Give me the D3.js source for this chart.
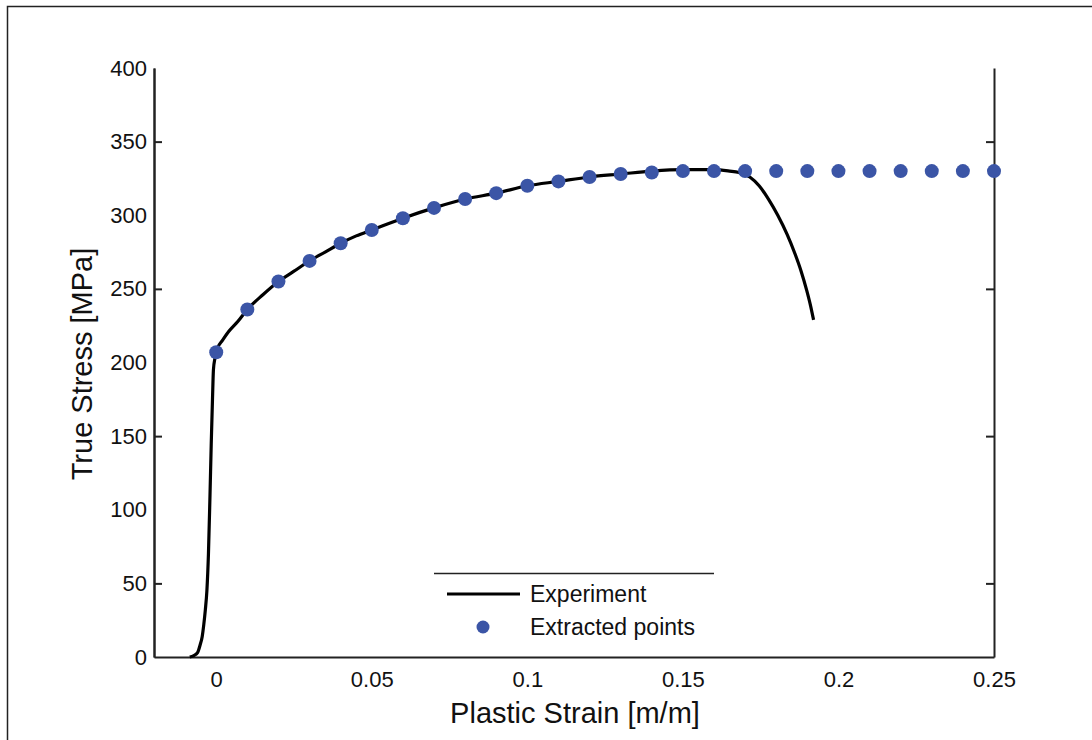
<!DOCTYPE html>
<html>
<head>
<meta charset="utf-8">
<title>True stress vs plastic strain</title>
<script src="https://d3js.org/d3.v7.min.js"></script>
<style>
  body { margin: 0; background: #fff; }
  svg { display: block; font-family: "Liberation Sans", Arial, sans-serif; }
</style>
</head>
<body>
<svg></svg>
<script>
    // experiment curve
    var expStrain = [-0.0085, -0.0072, -0.006, -0.0052, -0.0045, -0.004, -0.0035, -0.003, -0.0025, -0.002,
        -0.0016, -0.0012, -0.0009, -0.0004, 0.0005, 0.002, 0.004, 0.007, 0.01, 0.015,
        0.02, 0.025, 0.03, 0.035, 0.04, 0.045, 0.05, 0.06, 0.07, 0.08,
        0.09, 0.1, 0.11, 0.12, 0.13, 0.14, 0.15, 0.16, 0.165, 0.168,
        0.1715, 0.1745, 0.1775, 0.1805, 0.1835, 0.186, 0.188, 0.1898, 0.1911, 0.1918, 0.192];
    var expStress = [0, 1, 3, 8, 14, 22, 32, 45, 70, 110,
        145, 175, 195, 203, 210, 215, 221, 228, 236, 246,
        255, 262, 269, 275, 281, 286, 290, 298, 305, 311,
        315, 320, 323, 326, 328, 330, 331, 331, 330, 329,
        326, 320, 311, 300, 287, 274, 262, 249, 238, 231, 229];

    // extracted points
    var ptStrain = [0, 0.01, 0.02, 0.03, 0.04, 0.05, 0.06, 0.07, 0.08, 0.09, 0.1, 0.11, 0.12,
        0.13, 0.14, 0.15, 0.16, 0.17, 0.18, 0.19, 0.2, 0.21, 0.22, 0.23, 0.24, 0.25];
    var ptStress = [207, 236, 255, 269, 281, 290, 298, 305, 311, 315, 320, 323, 326,
        328, 329, 330, 330, 330, 330, 330, 330, 330, 330, 330, 330, 330];

    var xTicks = [0, 0.05, 0.1, 0.15, 0.2, 0.25];
    var yTicks = [0, 50, 100, 150, 200, 250, 300, 350, 400];
    var yTickMarks = [50, 150, 250, 350];

    var width = 1092;
    var height = 740;
    var blue = "#3b55a6";

    var svg = d3.select('svg')
        .attr('width', width)
        .attr('height', height);

    // outer frame (left + top edges visible)
    svg.append("path")
        .attr("d", "M7.5,745V6.5H1100")
        .attr("fill", "none")
        .attr("stroke", "#222")
        .attr("stroke-width", 1.5);

    var x = d3.scaleLinear().domain([-0.02, 0.25]).range([154, 994]);
    var y = d3.scaleLinear().domain([0, 400]).range([657, 68]);

    // y labels
    var yAxis = svg.append("g")
        .attr("transform", "translate(154,0)")
        .call(d3.axisLeft(y).tickValues(yTicks).tickSize(0).tickPadding(7));
    yAxis.selectAll("text").style("font-size", "22px").attr("fill", "#111");

    svg.append("g")
        .attr("transform", "translate(154,0)")
        .call(d3.axisLeft(y).tickValues(yTickMarks).tickSize(-8).tickSizeOuter(0).tickFormat(""));

    svg.append("g")
        .attr("transform", "translate(994,0)")
        .call(d3.axisRight(y).tickValues(yTickMarks).tickSize(-8).tickSizeOuter(0).tickFormat(""));

    var xAxis = svg.append("g")
        .attr("transform", "translate(0,657)")
        .call(d3.axisBottom(x).tickValues(xTicks).tickSize(0).tickPadding(14)
            .tickFormat(function (d) { return String(+d.toFixed(2)); }));
    xAxis.selectAll("text").style("font-size", "22px").attr("fill", "#111");

    svg.selectAll(".domain").attr("stroke", "#222").attr("stroke-width", 2);
    svg.selectAll(".tick line").attr("stroke", "#222").attr("stroke-width", 2);

    // axis titles
    svg.append("text")
        .attr("x", 575)
        .attr("y", 723)
        .attr("text-anchor", "middle")
        .style("font-size", "29px")
        .attr("fill", "#111")
        .text("Plastic Strain [m/m]");

    svg.append("text")
        .attr("transform", "translate(92,364)rotate(-90)")
        .attr("text-anchor", "middle")
        .style("font-size", "29px")
        .attr("fill", "#111")
        .text("True Stress [MPa]");

    // experiment line
    var expData = expStrain.map(function (s, i) { return [s, expStress[i]]; });
    var line = d3.line()
        .x(function (d) { return x(d[0]); })
        .y(function (d) { return y(d[1]); })
        .curve(d3.curveMonotoneX);

    svg.append("path")
        .datum(expData)
        .attr("d", line)
        .attr("fill", "none")
        .attr("stroke", "#000")
        .attr("stroke-width", 3.2);

    // extracted points
    svg.selectAll(".pt")
        .data(ptStrain)
        .enter().append("circle")
        .attr("class", "pt")
        .attr("cx", function (d) { return x(d); })
        .attr("cy", function (d, i) { return y(ptStress[i]); })
        .attr("r", 7)
        .attr("fill", blue);

    // legend
    var lg = svg.append("g");
    lg.append("line")
        .attr("x1", 434).attr("x2", 714)
        .attr("y1", 573.5).attr("y2", 573.5)
        .attr("stroke", "#222").attr("stroke-width", 1.5);
    lg.append("line")
        .attr("x1", 447).attr("x2", 520)
        .attr("y1", 594).attr("y2", 594)
        .attr("stroke", "#000").attr("stroke-width", 3.2);
    lg.append("circle")
        .attr("cx", 483).attr("cy", 627).attr("r", 6.5)
        .attr("fill", blue);
    lg.append("text")
        .attr("x", 530).attr("y", 594).attr("dy", "0.35em")
        .style("font-size", "23px").attr("fill", "#111")
        .text("Experiment");
    lg.append("text")
        .attr("x", 530).attr("y", 627).attr("dy", "0.35em")
        .style("font-size", "23px").attr("fill", "#111")
        .text("Extracted points");
</script>
</body>
</html>
